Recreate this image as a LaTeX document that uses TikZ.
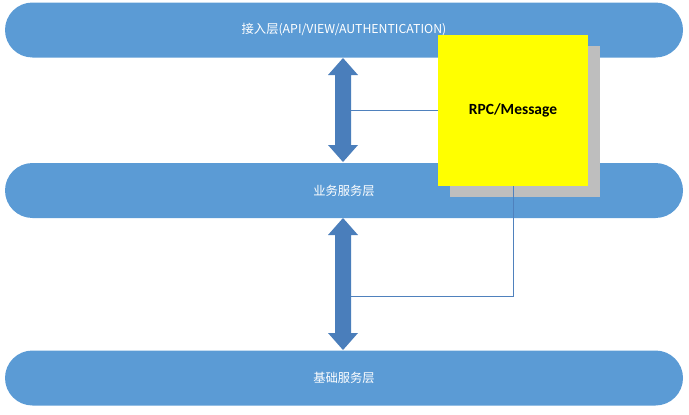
\documentclass[tikz,border=0pt]{standalone}
\usepackage{fontspec}
\newfontfamily\cjk{Noto Sans CJK SC}
\newfontfamily\calfont{Carlito}
\usetikzlibrary{shadows}
\definecolor{barblue}{RGB}{91,155,213}
\definecolor{arrowblue}{RGB}{74,126,187}
\definecolor{lineblue}{RGB}{79,129,189}
\definecolor{rpcyellow}{RGB}{255,255,0}
\definecolor{shadowgray}{RGB}{190,190,190}
\tikzset{
  bar/.style={fill=barblue, draw=none, rounded corners=27.5pt, minimum width=678pt, minimum height=55pt, inner sep=0pt, text=white, font=\cjk\fontsize{12.3}{14}\selectfont},
  dblarrow/.style={fill=arrowblue, draw=none},
  link/.style={draw=lineblue, line width=0.8pt},
  rpcbox/.style={fill=rpcyellow, draw=none, minimum width=150pt, minimum height=151pt, inner sep=0pt, font=\calfont\bfseries\fontsize{15.5}{17}\selectfont,
    drop shadow={shadow xshift=12pt, shadow yshift=-11pt, fill=shadowgray, opacity=1}}
}
\begin{document}
\begin{tikzpicture}[x=1pt,y=-1pt]
\useasboundingbox (0,0) rectangle (689,415);
\node[bar] (access) at (344,30) {接入层(API/VIEW/AUTHENTICATION)};
\node[bar] (biz) at (344,190.5) {业务服务层};
\node[bar] (base) at (344,378) {基础服务层};
% double arrows
\fill[dblarrow] (343,58) -- (358,75) -- (351,75) -- (351,145) -- (358,145) -- (343,162) -- (328,145) -- (335,145) -- (335,75) -- (328,75) -- cycle;
\fill[dblarrow] (343,218) -- (358,235) -- (351,235) -- (351,333) -- (358,333) -- (343,350) -- (328,333) -- (335,333) -- (335,235) -- (328,235) -- cycle;
\coordinate (a1) at (351,110);
\coordinate (a2) at (351,296);
\node[rpcbox] (rpc) at (513,110.5) {RPC/Message};
\draw[link] (a1) -- (rpc.west |- a1);
\draw[link] (rpc.south) |- (a2);
\end{tikzpicture}
\end{document}
